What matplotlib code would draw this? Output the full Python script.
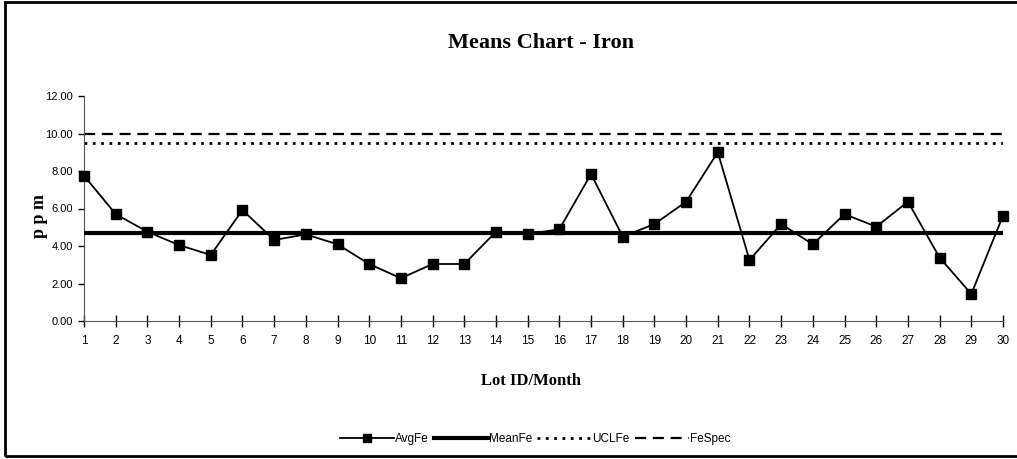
# Means chart for iron (ppm) by lot

import numpy as np
import matplotlib.pyplot as plt
from matplotlib.patches import Rectangle

# Data
lots = list(range(1, 31))
avg_fe = [7.75, 5.70, 4.76, 4.05, 3.52, 5.92, 4.32, 4.62, 4.09, 3.04,
          2.28, 3.04, 3.04, 4.76, 4.64, 4.89, 7.84, 4.50, 5.17, 6.36,
          9.00, 3.25, 5.17, 4.09, 5.70, 5.03, 6.36, 3.38, 1.44, 5.62]
mean_fe = 4.70
ucl_fe = 9.50
fe_spec = 10.0

y_ticks = [0, 2, 4, 6, 8, 10, 12]

sans = ['Liberation Sans', 'DejaVu Sans']
serif = ['Liberation Serif', 'DejaVu Serif']

fig = plt.figure(figsize=(10.17, 4.59), dpi=100)
ax = fig.add_axes([84/1017, 1 - 321/459, (1003 - 84)/1017, (321 - 96)/459])

n = len(lots)
ax.plot(lots, avg_fe, color='black', lw=1.3, marker='s', ms=7, label='AvgFe',
        clip_on=False, zorder=4)
ax.plot(lots, [mean_fe]*n, color='black', lw=3, label='MeanFe', zorder=3)
ax.plot(lots, [ucl_fe]*n, color='black', lw=2, linestyle=(0, (1, 2)), label='UCLFe')
ax.plot(lots, [fe_spec]*n, color='black', lw=1.6, linestyle=(0, (5, 3)), label='FeSpec')

ax.set_xlim(1, 30)
ax.set_ylim(0, 12)
ax.set_xticks(lots)
ax.set_xticklabels([str(v) for v in lots], family=sans, fontsize=8.5)
ax.set_yticks(y_ticks)
ax.set_yticklabels([f"{v:.2f}" for v in y_ticks], family=sans, fontsize=8)
ax.tick_params(axis='x', direction='inout', length=8, width=1, pad=6)
ax.tick_params(axis='y', direction='out', length=4, width=1, pad=4)
ax.spines['top'].set_visible(False)
ax.spines['right'].set_visible(False)
ax.spines['left'].set_color('#555555')
ax.spines['bottom'].set_color('#555555')

fig.text(541/1017, 1 - 43/459, "Means Chart - Iron", family=serif, fontsize=16,
         fontweight='bold', ha='center', va='center')
fig.text(531/1017, 1 - 381/459, "Lot ID/Month", family=serif, fontsize=12,
         fontweight='bold', ha='center', va='center')
fig.text(40/1017, 1 - 216/459, "p p m", family=serif, fontsize=13,
         fontweight='bold', ha='center', va='center', rotation=90)

leg = fig.legend(loc='center', bbox_to_anchor=(535/1017, 1 - 439/459), ncol=4,
                 frameon=False, handlelength=4.6, handletextpad=0.1,
                 columnspacing=0.4, markerscale=0.8,
                 prop={'family': sans, 'size': 8.5})

# outer chart border
fig.add_artist(Rectangle((5/1017, 3/459), 1.1, 1 - 5/459, transform=fig.transFigure,
                         fill=False, edgecolor='black', lw=2))

fig.savefig('out.png', dpi=100)
